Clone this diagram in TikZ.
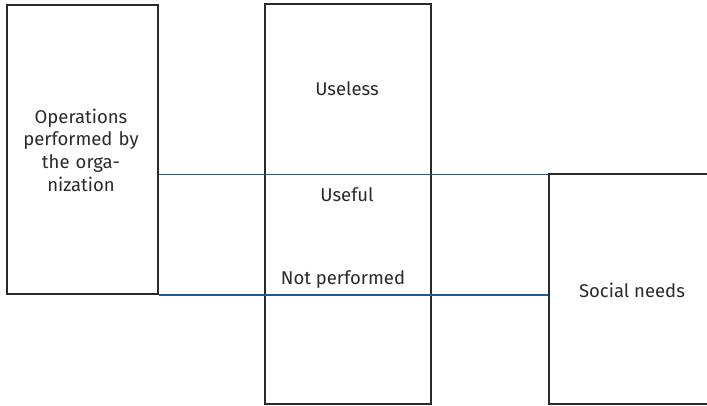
\documentclass[tikz,border=0pt]{standalone}
\usepackage{fontspec}
\setmainfont{Fira Sans}
\usepackage{xcolor}
\usetikzlibrary{positioning}

\definecolor{boxline}{HTML}{2A2A2A}
\definecolor{linkblue}{HTML}{24579A}

\tikzset{
  area/.style={draw=boxline, line width=1.5pt, fill=none, inner sep=0pt},
  caption/.style={font=\fontsize{18.5}{22.7}\selectfont, text=boxline, align=center},
  link/.style={draw=linkblue, line width=1.6pt}
}

\begin{document}
\begin{tikzpicture}[x=1pt,y=1pt]
\useasboundingbox (0,0) rectangle (707,406);
% Boxes
\node[area, minimum width=151pt, minimum height=289pt, anchor=south west] (ops) at (6,111) {};
\node[area, minimum width=166pt, minimum height=400pt, anchor=south west] (mid) at (264,1) {};
\node[area, minimum width=162pt, minimum height=230pt, anchor=south west] (needs) at (548,1) {};
% Texts
\node[caption, text width=140pt] (opstext) at (81,256) {Operations\\performed by\\the orga-\\nization};
\node[caption] (useless) at (347,317) {Useless};
\node[caption] (useful) at (347,211) {Useful};
\node[caption] (notdone) at (343,126) {Not performed};
\node[caption] (needstext) at (632,116) {Social needs};
% Links
\coordinate (upperfrom) at ([yshift=-1pt]ops.east |- needs.north);
\coordinate (upperto) at ([yshift=-1pt]needs.west |- needs.north);
\coordinate (lowerto) at (needs.west |- ops.south);
\draw[link] (upperfrom) -- (upperto);
\draw[link] (ops.south east) -- (lowerto);
\end{tikzpicture}
\end{document}
